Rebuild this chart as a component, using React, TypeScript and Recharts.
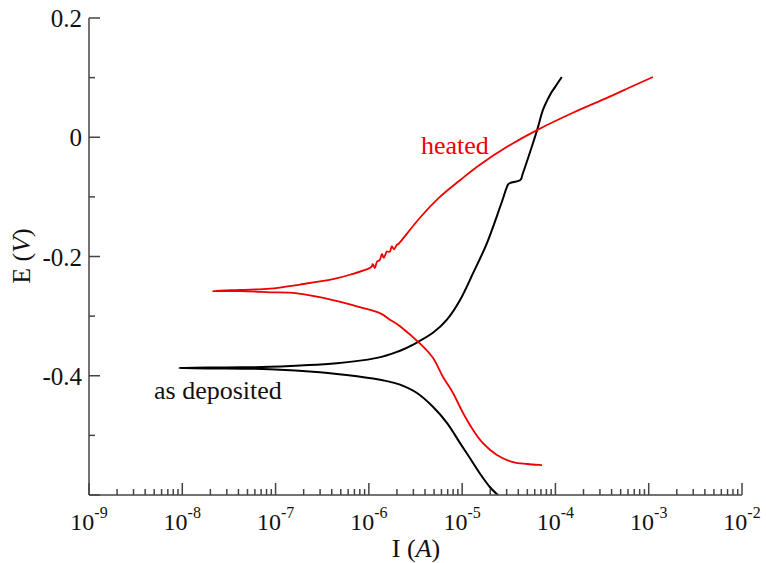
import React from 'react';
import { LineChart, Line, XAxis, YAxis, Customized } from 'recharts';

// heated sample: cathodic branch (right to left), then anodic branch
const heatedI = [
    7.18e-5, 5.0e-5, 3.51e-5, 2.36e-5, 1.67e-5, 1.31e-5, 1.02e-5, 7.98e-6, 6.24e-6, 4.86e-6,
    3.53e-6, 2.16e-6, 1.68e-6, 1.31e-6, 8.0e-7, 4.12e-7, 1.7e-7, 8.7e-8, 4.16e-8, 2.13e-8,
    4.16e-8, 8.7e-8, 1.83e-7, 4.12e-7, 6.76e-7, 1.03e-6, 1.1e-6, 1.16e-6, 1.22e-6, 1.31e-6,
    1.38e-6, 1.45e-6, 1.55e-6, 1.68e-6, 1.76e-6, 1.86e-6, 2.0e-6, 2.16e-6, 3.53e-6, 5.78e-6,
    9.5e-6, 1.55e-5, 3.03e-5, 6.34e-5, 1.54e-4, 3.57e-4, 6.78e-4, 1.11e-3,
];
const heatedE = [
    -0.55, -0.548, -0.545, -0.533, -0.513, -0.491, -0.462, -0.429, -0.402, -0.37,
    -0.346, -0.317, -0.306, -0.295, -0.285, -0.273, -0.262, -0.26, -0.258, -0.258,
    -0.256, -0.254, -0.247, -0.238, -0.229, -0.219, -0.213, -0.219, -0.209, -0.206,
    -0.196, -0.202, -0.192, -0.192, -0.183, -0.188, -0.18, -0.176, -0.135, -0.1,
    -0.072, -0.046, -0.016, 0.012, 0.041, 0.066, 0.086, 0.101,
];

// as deposited sample
const depositedI = [
    2.42e-5, 1.99e-5, 1.55e-5, 1.21e-5, 9.5e-6, 6.87e-6, 4.86e-6, 3.28e-6, 2.16e-6, 1.56e-6,
    7.46e-7, 2.99e-7, 8.7e-8, 3.0e-8, 9.2e-9,
    3.0e-8, 8.7e-8, 4.55e-7, 1.22e-6, 2.16e-6, 2.97e-6, 4.86e-6, 6.87e-6, 9.5e-6, 1.31e-5,
    1.85e-5, 2.55e-5, 3.03e-5, 3.26e-5, 4.17e-5, 4.49e-5, 5.74e-5, 6.5e-5, 7.35e-5, 8.74e-5,
    9.9e-5, 1.17e-4,
];
const depositedE = [
    -0.6, -0.587, -0.564, -0.538, -0.513, -0.479, -0.452, -0.429, -0.415, -0.409,
    -0.401, -0.394, -0.389, -0.388, -0.387,
    -0.386, -0.385, -0.379, -0.37, -0.358, -0.348, -0.328, -0.306, -0.273, -0.228,
    -0.177, -0.117, -0.083, -0.077, -0.072, -0.06, -0.01, 0.017, 0.046, 0.071,
    0.084, 0.101,
];

const xMajor = [1e-9, 1e-8, 1e-7, 1e-6, 1e-5, 1e-4, 1e-3, 1e-2];
const yTicks = [-0.6, -0.5, -0.4, -0.3, -0.2, -0.1, 0, 0.1, 0.2];

const heatedData = heatedI.map((I, i) => ({ I, E: heatedE[i] }));
const depositedData = depositedI.map((I, i) => ({ I, E: depositedE[i] }));

const xTicks: number[] = [];
xMajor.forEach((m, k) => {
    xTicks.push(m);
    if (k < xMajor.length - 1) {
        for (let j = 2; j <= 9; j++) xTicks.push(Number((m * j).toPrecision(3)));
    }
});

const AXIS = '#444';
const FONT = '"Liberation Serif", "Times New Roman", serif';

// smooth curve through the points (catmull-rom as cubic beziers), works when x goes back
const catmullRom = (context: any) => {
    let pts: number[][] = [];
    return {
        areaStart() {},
        areaEnd() {},
        lineStart() {
            pts = [];
        },
        point(x: number, y: number) {
            pts.push([+x, +y]);
        },
        lineEnd() {
            const n = pts.length;
            if (!n) return;
            context.moveTo(pts[0][0], pts[0][1]);
            for (let i = 0; i < n - 1; i++) {
                const p0 = pts[i - 1] || pts[i];
                const p1 = pts[i];
                const p2 = pts[i + 1];
                const p3 = pts[i + 2] || p2;
                context.bezierCurveTo(
                    p1[0] + (p2[0] - p0[0]) / 6,
                    p1[1] + (p2[1] - p0[1]) / 6,
                    p2[0] - (p3[0] - p1[0]) / 6,
                    p2[1] - (p3[1] - p1[1]) / 6,
                    p2[0],
                    p2[1]
                );
            }
        },
    };
};

const isMajorX = (v: number) => {
    const l = Math.log10(v);
    return Math.abs(l - Math.round(l)) < 1e-6;
};
const isMajorY = (v: number) => Math.abs(v * 5 - Math.round(v * 5)) < 1e-6;

const BottomTick = ({ x, y, payload }: any) => {
    const major = isMajorX(payload.value);
    const exp = Math.round(Math.log10(payload.value));
    return (
        <g>
            <line x1={x} y1={y} x2={x} y2={y - (major ? 12 : 6)} stroke={AXIS} strokeWidth={1.5} />
            {major && (
                <text x={x} y={y + 35} textAnchor="middle" fontFamily={FONT} fontSize={24} fill="#111">
                    <tspan>10</tspan>
                    <tspan dy={-12} fontSize={16}>{exp}</tspan>
                </text>
            )}
        </g>
    );
};

const TopTick = ({ x, y, payload }: any) => {
    const major = isMajorX(payload.value);
    return <line x1={x} y1={y} x2={x} y2={y + (major ? 12 : 6)} stroke={AXIS} strokeWidth={1.5} />;
};

const LeftTick = ({ x, y, payload }: any) => {
    const v = payload.value;
    const major = isMajorY(v);
    const label = Math.abs(v) < 1e-9 ? '0' : v.toFixed(1);
    return (
        <g>
            <line x1={x} y1={y} x2={x + (major ? 11 : 6)} y2={y} stroke={AXIS} strokeWidth={1.5} />
            {major && v > -0.55 && (
                <text x={x - 7} y={y + 9} textAnchor="end" fontFamily={FONT} fontSize={25} fill="#111">
                    {label}
                </text>
            )}
        </g>
    );
};

const RightTick = ({ x, y, payload }: any) => {
    const major = isMajorY(payload.value);
    return <line x1={x} y1={y} x2={x - (major ? 11 : 6)} y2={y} stroke={AXIS} strokeWidth={1.5} />;
};

const Annotations = () => (
    <g fontFamily={FONT}>
        <text x={421} y={154} fontSize={26} fill="#ee0000">heated</text>
        <text x={154} y={399} fontSize={26} fill="#111">as deposited</text>
        <text x={416} y={557} textAnchor="middle" fontSize={26} fill="#111">
            I (<tspan fontStyle="italic">A</tspan>)
        </text>
        <text x={0} y={0} transform="translate(30 256) rotate(-90)" textAnchor="middle" fontSize={26} fill="#111">
            E (<tspan fontStyle="italic">V</tspan>)
        </text>
    </g>
);

export default function App() {
    return (
        <div style={{ position: 'absolute', left: 0, top: 0, background: '#fff' }}>
            <LineChart width={766} height={563} margin={{ top: 18, right: 24, left: 0, bottom: 0 }}>
                <XAxis
                    xAxisId="b"
                    dataKey="I"
                    type="number"
                    scale="log"
                    domain={[1e-9, 1e-2]}
                    allowDataOverflow
                    ticks={xTicks}
                    interval={0}
                    height={68}
                    tickSize={0}
                    tickMargin={0}
                    tickLine={false}
                    tick={<BottomTick />}
                    axisLine={{ stroke: AXIS, strokeWidth: 1.5 }}
                />
                <XAxis
                    xAxisId="t"
                    orientation="top"
                    dataKey="I"
                    type="number"
                    scale="log"
                    domain={[1e-9, 1e-2]}
                    allowDataOverflow
                    ticks={xTicks}
                    interval={0}
                    height={0}
                    tickSize={0}
                    tickMargin={0}
                    tickLine={false}
                    tick={<TopTick />}
                    axisLine={{ stroke: AXIS, strokeWidth: 1.5 }}
                />
                <YAxis
                    yAxisId="l"
                    type="number"
                    domain={[-0.6, 0.2]}
                    allowDataOverflow
                    ticks={yTicks}
                    interval={0}
                    width={89}
                    tickSize={0}
                    tickMargin={0}
                    tickLine={false}
                    tick={<LeftTick />}
                    axisLine={{ stroke: AXIS, strokeWidth: 1.5 }}
                />
                <YAxis
                    yAxisId="r"
                    orientation="right"
                    type="number"
                    domain={[-0.6, 0.2]}
                    allowDataOverflow
                    ticks={yTicks}
                    interval={0}
                    width={0}
                    tickSize={0}
                    tickMargin={0}
                    tickLine={false}
                    tick={<RightTick />}
                    axisLine={{ stroke: AXIS, strokeWidth: 1.5 }}
                />
                <Line
                    xAxisId="b"
                    yAxisId="l"
                    data={depositedData}
                    dataKey="E"
                    type={catmullRom as any}
                    stroke="#000"
                    strokeWidth={2}
                    dot={false}
                    isAnimationActive={false}
                />
                <Line
                    xAxisId="b"
                    yAxisId="l"
                    data={heatedData}
                    dataKey="E"
                    type={catmullRom as any}
                    stroke="#ee0000"
                    strokeWidth={1.8}
                    dot={false}
                    isAnimationActive={false}
                />
                <Customized component={Annotations} />
            </LineChart>
        </div>
    );
}
